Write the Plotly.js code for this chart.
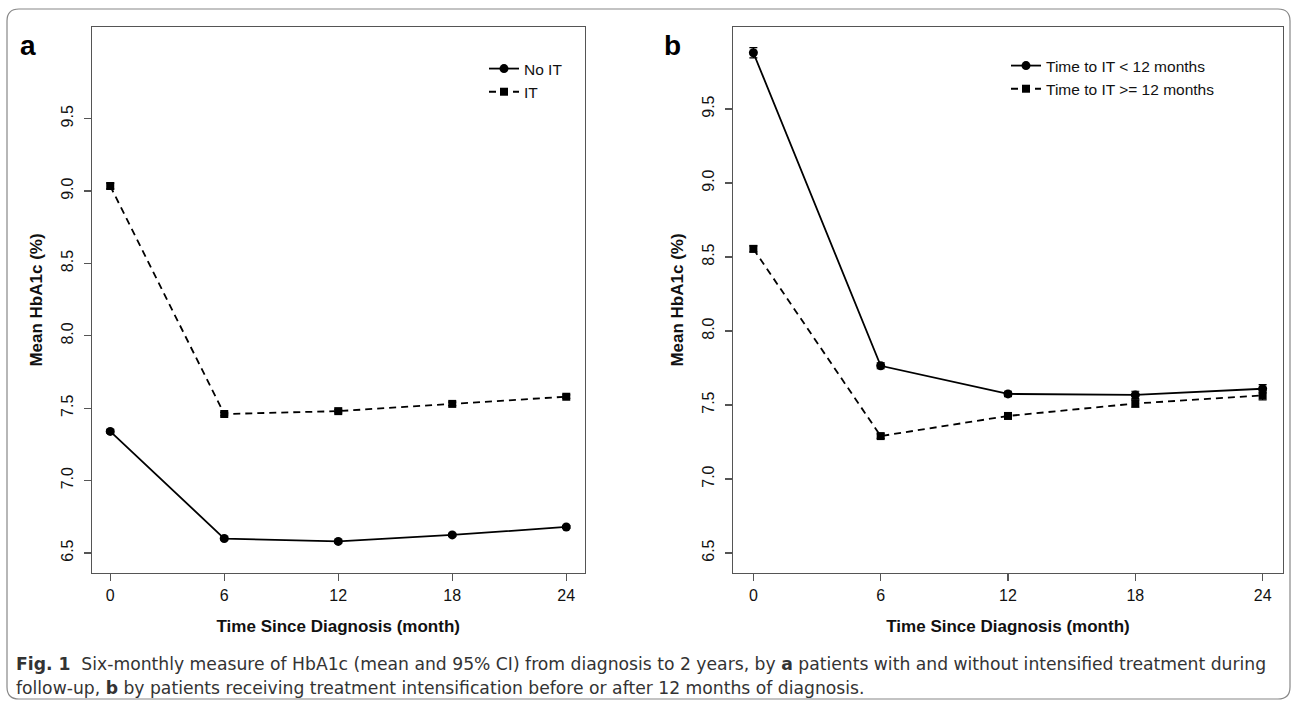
<!DOCTYPE html>
<html>
<head>
<meta charset="utf-8">
<script src="https://cdn.plot.ly/plotly-3.0.1.min.js"></script>
<style>html,body{margin:0;padding:0;background:#fff;}#chart{width:1292px;height:704px;}</style>
</head>
<body>
<div id="chart"></div>
<script>
// ---- data ----
const months = [0, 6, 12, 18, 24];
const xTickLabels = ['0', '6', '12', '18', '24'];
const yTickVals = [6.5, 7.0, 7.5, 8.0, 8.5, 9.0, 9.5];
const yTickLabels = ['6.5', '7.0', '7.5', '8.0', '8.5', '9.0', '9.5'];

// Panel a
const noIT = [7.34, 6.60, 6.58, 6.625, 6.68];
const noITci = [0.012, 0.010, 0.010, 0.010, 0.010];
const IT = [9.035, 7.46, 7.48, 7.53, 7.58];
const ITci = [0.02, 0.012, 0.012, 0.012, 0.012];

// Panel b
const early = [9.88, 7.765, 7.575, 7.568, 7.61];
const earlyCi = [0.035, 0.02, 0.018, 0.025, 0.028];
const late = [8.555, 7.29, 7.426, 7.51, 7.565];
const lateCi = [0.02, 0.015, 0.015, 0.025, 0.03];

const seriesNames = ['No IT', 'IT', 'Time to IT < 12 months', 'Time to IT >= 12 months'];
const captionLine1 = '<b>Fig. 1</b>  Six-monthly measure of HbA1c (mean and 95% CI) from diagnosis to 2 years, by <b>a</b> patients with and without intensified treatment during';
const captionLine2 = 'follow-up, <b>b</b> by patients receiving treatment intensification before or after 12 months of diagnosis.';

// ---- styling ----
const W = 1292, H = 704;
const px = v => v / W;
const py = v => 1 - v / H;
const FONT = 'Liberation Sans, Arial, Helvetica, sans-serif';
const CAPFONT = 'DejaVu Sans, Liberation Sans, Arial, sans-serif';
const AXC = '#555';

function mkTrace(y, ci, name, dash, symbol, xa, ya, leg) {
  return {
    x: months, y: y, name: name, type: 'scatter', mode: 'lines+markers',
    xaxis: xa, yaxis: ya, legend: leg,
    line: {color: '#000', width: 1.8, dash: dash},
    marker: {color: '#000', size: symbol === 'square' ? 8 : 9, symbol: symbol},
    error_y: {type: 'data', array: ci, visible: true, color: '#000', thickness: 1.2, width: 4}
  };
}

const traces = [
  mkTrace(noIT, noITci, seriesNames[0], 'solid', 'circle', 'x', 'y', 'legend'),
  mkTrace(IT, ITci, seriesNames[1], '7px,5px', 'square', 'x', 'y', 'legend'),
  mkTrace(early, earlyCi, seriesNames[2], 'solid', 'circle', 'x2', 'y2', 'legend2'),
  mkTrace(late, lateCi, seriesNames[3], '7px,5px', 'square', 'x2', 'y2', 'legend2')
];

function xAxis(d0, d1, anchor) {
  return {
    domain: [px(d0), px(d1)], anchor: anchor, range: [-0.96, 24.96],
    tickmode: 'array', tickvals: months, ticktext: xTickLabels,
    ticks: 'outside', ticklen: 7, tickwidth: 1.2, tickcolor: AXC,
    showline: true, mirror: true, linecolor: AXC, linewidth: 1.4,
    showgrid: false, zeroline: false, fixedrange: true,
    tickfont: {family: FONT, size: 16, color: '#111'},
    title: {text: '<b>Time Since Diagnosis (month)</b>', font: {family: FONT, size: 17, color: '#111'}, standoff: 17}
  };
}
function yAxis(range, anchor) {
  return {
    domain: [py(573), py(27)], anchor: anchor, range: range,
    tickmode: 'array', tickvals: yTickVals, ticktext: yTickLabels, tickangle: -90,
    ticks: 'outside', ticklen: 7, tickwidth: 1.2, tickcolor: AXC,
    showline: true, mirror: true, linecolor: AXC, linewidth: 1.4,
    showgrid: false, zeroline: false, fixedrange: true,
    ticklabelstandoff: 4,
    tickfont: {family: FONT, size: 16, color: '#111'},
    title: {text: '<b>Mean HbA1c (%)</b>', font: {family: FONT, size: 17, color: '#111'}, standoff: 12}
  };
}

// rounded border frame path in paper coordinates
function roundedRect(x0, y0, x1, y1, r) {
  const rx = r / W, ry = r / H;
  const X0 = px(x0), X1 = px(x1), Y0 = py(y0), Y1 = py(y1);
  return `M ${X0 + rx},${Y0} L ${X1 - rx},${Y0} Q ${X1},${Y0} ${X1},${Y0 - ry} ` +
         `L ${X1},${Y1 + ry} Q ${X1},${Y1} ${X1 - rx},${Y1} L ${X0 + rx},${Y1} ` +
         `Q ${X0},${Y1} ${X0},${Y1 + ry} L ${X0},${Y0 - ry} Q ${X0},${Y0} ${X0 + rx},${Y0} Z`;
}

const layout = {
  width: W, height: H,
  margin: {l: 0, r: 0, t: 0, b: 0},
  paper_bgcolor: '#fff', plot_bgcolor: '#fff',
  font: {family: FONT, color: '#000'},
  showlegend: true,
  xaxis: xAxis(92, 584.5, 'y'),
  yaxis: yAxis([6.362, 10.133], 'x'),
  xaxis2: xAxis(733, 1283, 'y2'),
  yaxis2: yAxis([6.365, 10.054], 'x2'),
  legend: {
    x: px(484), y: py(52), xanchor: 'left', yanchor: 'top',
    bgcolor: 'rgba(0,0,0,0)', borderwidth: 0,
    font: {family: FONT, size: 15.5, color: '#111'},
    itemwidth: 30, tracegroupgap: 0, traceorder: 'normal'
  },
  legend2: {
    x: px(1006), y: py(49), xanchor: 'left', yanchor: 'top',
    bgcolor: 'rgba(0,0,0,0)', borderwidth: 0,
    font: {family: FONT, size: 15.5, color: '#111'},
    itemwidth: 30, tracegroupgap: 0, traceorder: 'normal'
  },
  shapes: [{
    type: 'path', xref: 'paper', yref: 'paper',
    path: roundedRect(7, 9, 1290, 699, 12),
    line: {color: '#888', width: 1.2}, fillcolor: 'rgba(0,0,0,0)', layer: 'below'
  }],
  annotations: [
    {text: '<b>a</b>', xref: 'paper', yref: 'paper', x: px(28), y: py(45), xanchor: 'center', yanchor: 'middle',
     showarrow: false, font: {family: FONT, size: 28, color: '#000'}},
    {text: '<b>b</b>', xref: 'paper', yref: 'paper', x: px(672), y: py(45), xanchor: 'center', yanchor: 'middle',
     showarrow: false, font: {family: FONT, size: 28, color: '#000'}},
    {text: captionLine1, xref: 'paper', yref: 'paper', x: px(14), y: py(664), xanchor: 'left', yanchor: 'middle',
     showarrow: false, align: 'left', font: {family: CAPFONT, size: 17.2, color: '#333'}},
    {text: captionLine2, xref: 'paper', yref: 'paper', x: px(14), y: py(688), xanchor: 'left', yanchor: 'middle',
     showarrow: false, align: 'left', font: {family: CAPFONT, size: 17.2, color: '#333'}}
  ]
};

Plotly.newPlot('chart', traces, layout, {displayModeBar: false, staticPlot: true});
</script>
</body>
</html>
